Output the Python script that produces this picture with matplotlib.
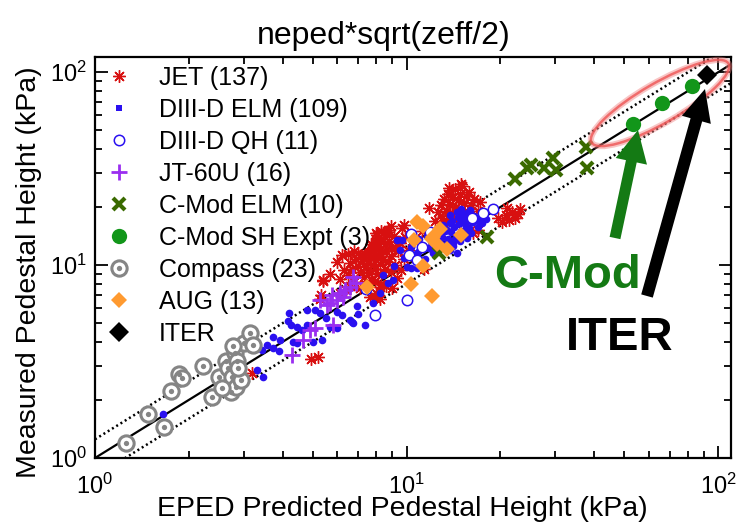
import numpy as np
import matplotlib
matplotlib.use('Agg')
import matplotlib.pyplot as plt
from matplotlib.lines import Line2D
from matplotlib.legend_handler import HandlerTuple
from matplotlib.patches import Ellipse, FancyArrow
import matplotlib.transforms as mtransforms

plt.rcParams['font.family'] = ['Liberation Sans', 'DejaVu Sans']
plt.rcParams['mathtext.fontset'] = 'custom'
plt.rcParams['mathtext.rm'] = 'Liberation Sans'
plt.rcParams['mathtext.it'] = 'Liberation Sans:italic'

# ---------------- data (EPED predicted, measured) in kPa ----------------
jet_x = [6.1, 6.3, 6.5, 6.6, 6.7, 6.8, 6.9, 7.0, 7.0, 7.1, 7.2, 7.3, 7.3, 7.3, 7.4, 7.5, 7.5, 7.5, 7.6, 8.3,
         7.7, 7.7, 7.8, 7.8, 7.9, 7.9, 8.0, 8.0, 8.1, 8.1, 8.2, 8.2, 8.3, 8.3, 8.4, 8.4, 8.5, 8.5, 8.6, 8.7,
         8.7, 8.8, 8.9, 8.9, 9.0, 9.1, 9.2, 9.3, 9.4, 9.5, 9.6, 9.7, 7.1, 8.0, 8.2, 8.6, 7.4, 6.4, 5.4, 5.3,
         6.0, 6.2, 8.0, 8.9, 9.8, 10.1, 7.9, 8.0, 8.3, 9.0, 7.9, 6.6, 9.9, 10.4, 6.8, 8.5, 7.7, 9.3,
         12.9, 13.2, 13.4, 13.6, 13.8, 14.0, 14.1, 14.3, 14.4, 14.6, 14.8, 15.0, 15.1, 15.3, 15.5, 15.7,
         15.9, 16.1, 13.0, 14.2, 12.6, 16.5, 17.2, 17.0, 13.7, 14.9, 12.3, 11.8, 13.5, 16.2,
         19.6, 20.2, 20.8, 21.3, 21.8, 22.3, 22.8, 23.2, 21.0, 16.3, 17.0,
         4.94, 5.2, 3.19, 2.86, 5.4, 5.28, 6.12, 8.05, 8.67, 7.64, 7.9, 8.2, 11.4, 10.6, 9.8, 11.2, 5.7, 6.5]
jet_y = [8.5, 9.4, 8.9, 10.2, 9.6, 8.2, 10.8, 9.9, 11.5, 9.2, 10.5, 11.4, 8.7, 11.0, 9.8, 11.9, 10.3, 11.6, 9.1, 13.2,
         10.9, 8.4, 11.9, 10.0, 9.5, 12.4, 10.6, 11.2, 13.8, 9.0, 10.1, 12.0, 11.4, 8.0, 14.6, 10.8, 12.8, 9.6, 11.8, 10.4,
         15.2, 13.4, 9.2, 11.1, 12.3, 14.1, 10.0, 8.6, 11.9, 13.0, 9.4, 15.5, 7.6, 7.2, 6.7, 7.8, 7.9, 7.4, 8.4, 7.0,
         10.4, 11.3, 14.6, 15.9, 10.7, 12.0, 12.7, 13.1, 15.0, 7.6, 8.3, 7.8, 14.0, 11.2, 11.9, 14.0, 12.9, 12.7,
         20.5, 22.0, 19.1, 23.5, 20.8, 18.4, 22.6, 24.8, 20.0, 21.7, 23.4, 19.4, 25.6, 21.0, 22.8, 18.8,
         24.0, 20.6, 17.6, 17.3, 18.9, 22.1, 21.3, 19.0, 25.0, 26.5, 16.9, 19.8, 17.0, 17.8,
         17.5, 16.8, 18.3, 17.2, 18.9, 17.6, 18.5, 19.5, 19.8, 14.7, 15.3,
         3.26, 3.34, 2.76, 2.72, 8.3, 6.66, 7.15, 14.3, 14.9, 6.8, 6.75, 7.7, 9.6, 13.3, 16.2, 15.0, 9.0, 11.4]

d3elm_x = [1.65, 3.31, 3.46, 3.43, 3.57, 3.73, 3.73, 3.93, 4.20, 4.17, 4.26, 4.45, 4.62, 4.32, 4.45, 4.79, 5.09,
           5.28, 5.01, 5.36, 5.68, 5.98, 6.68, 6.73, 7.36, 6.93, 6.59, 8.41, 9.05, 8.73, 9.32, 9.67, 9.54, 10.3,
           10.5, 10.8, 10.3, 10.8, 11.9, 12.5, 13.5, 13.8, 14.5, 14.1, 13.5, 13.8, 14.9, 15.6, 16.0, 14.5, 15.4,
           16.4, 17.2, 17.6,
           13.0, 13.3, 13.6, 13.9, 14.2, 14.4, 14.7, 14.9, 15.1, 15.3, 15.5, 15.7, 15.9, 16.2, 16.5, 16.8, 14.0,
           14.6, 15.2, 13.1, 12.8, 12.6, 13.4, 14.1, 14.8, 15.6, 16.1, 16.9, 17.5, 18.0, 13.8, 15.0, 16.0, 12.3,
           12.0, 11.6, 11.3, 11.0, 14.3, 15.4,
           5.5, 6.2, 6.0, 7.0, 7.8, 8.2, 9.8, 10.0, 9.1, 11.5, 12.2, 11.8, 4.8, 3.9, 10.9]
d3elm_y = [1.69, 2.86, 2.63, 3.63, 3.85, 3.71, 4.24, 4.09, 5.64, 5.13, 4.89, 4.77, 4.60, 3.99, 3.94, 5.85, 5.85,
           5.64, 3.99, 4.09, 4.77, 5.71, 5.07, 5.0, 4.89, 6.13, 5.19, 8.87, 8.36, 8.08, 13.5, 13.5, 11.96, 12.4,
           11.3, 9.65, 9.65, 11.5, 12.4, 11.96, 12.4, 11.96, 11.5, 13.1, 15.2, 16.5, 17.7, 18.6, 19.3, 18.9, 16.5,
           16.7, 17.7, 18.9,
           14.0, 15.0, 13.6, 14.8, 15.8, 14.2, 16.3, 15.1, 17.0, 14.6, 16.0, 17.5, 15.5, 16.8, 18.0, 17.2, 16.9,
           17.8, 18.4, 16.2, 13.0, 15.5, 12.8, 12.6, 13.3, 13.9, 14.6, 15.8, 16.6, 17.4, 18.1, 19.6, 19.0, 14.4,
           13.4, 14.1, 12.6, 13.6, 13.7, 15.3,
           5.3, 5.5, 4.7, 5.6, 6.4, 7.2, 10.9, 9.8, 9.9, 10.8, 11.5, 12.2, 4.9, 3.6, 11.7]

d3qh_x = [10.3, 11.2, 10.2, 10.8, 7.92, 10.0, 17.6, 19.0, 16.2, 11.9, 7.41]
d3qh_y = [14.5, 12.4, 11.3, 10.6, 5.51, 6.59, 18.6, 19.5, 17.5, 14.8, 7.51]

jt60_x = [4.29, 4.65, 5.09, 5.81, 5.56, 5.76, 6.12, 6.73, 6.59, 6.25, 5.68, 5.28, 5.98, 6.35, 6.88, 4.90]
jt60_y = [3.42, 4.09, 4.72, 4.89, 6.21, 6.99, 7.16, 8.67, 7.69, 6.83, 6.36, 6.59, 6.59, 7.42, 8.07, 4.61]

cmod_elm_x = [12.7, 18.1, 22.3, 24.4, 25.1, 27.6, 29.5, 30.2, 37.7, 37.9]
cmod_elm_y = [11.5, 14.0, 27.9, 31.8, 33.0, 31.8, 35.8, 31.1, 40.9, 31.8]

cmod_sh_x = [53.3, 66.1, 82.5]
cmod_sh_y = [53.8, 69.1, 84.6]

compass_x = [1.26, 1.48, 1.67, 1.75, 1.86, 1.90, 2.22, 2.38, 2.50, 2.63, 2.67, 2.73, 2.75, 2.81, 2.86, 2.84,
             3.01, 3.15, 3.22, 2.77, 2.94, 2.88, 2.56]
compass_y = [1.20, 1.69, 1.45, 2.22, 2.72, 2.60, 3.00, 2.07, 2.63, 3.18, 2.93, 2.20, 2.63, 3.50, 3.18, 2.33,
             3.94, 4.44, 3.85, 3.80, 2.53, 2.93, 2.30]

aug_x = [7.47, 10.8, 11.3, 10.6, 12.1, 12.8, 12.2, 13.5, 11.3, 10.3, 12.1, 15.0, 12.5]
aug_y = [7.69, 16.7, 15.9, 13.5, 13.6, 15.4, 14.0, 12.1, 9.88, 7.97, 6.91, 14.3, 12.8]

iter_x = [92.0]
iter_y = [97.0]

labels = ['JET (137)', 'DIII-D ELM (109)', 'DIII-D QH (11)', 'JT-60U (16)', 'C-Mod ELM (10)',
          'C-Mod SH Expt (3)', 'Compass (23)', 'AUG (13)', 'ITER']
ref_span = [1.0, 130.0]
band_factor = 1.25

# ---------------- colours ----------------
c_jet = '#d81010'
c_d3 = '#2a10f0'
c_jt = '#9a2ef0'
c_cme = '#3a6a00'
c_csh = '#12961a'
c_comp = '#858585'
c_aug = '#ff9a30'
c_green_txt = '#147a14'

fig = plt.figure(figsize=(7.4, 5.22), dpi=100)
ax = fig.add_axes([95/740, (522-458)/522, (731-95)/740, (458-57)/522])
ax.set_xscale('log')
ax.set_yscale('log')

ref = np.array(ref_span)
ax.plot(ref, ref, color='k', lw=1.6, zorder=1.5)
ax.plot(ref, ref*band_factor, color='k', lw=1.8, ls=(0, (0.8, 1.2)), zorder=1.5)
ax.plot(ref, ref/band_factor, color='k', lw=1.8, ls=(0, (0.8, 1.2)), zorder=1.5)

ast = (8, 2, 0)
ax.plot(jet_x, jet_y, ls='none', marker=ast, ms=9, mew=1.0, color=c_jet, zorder=3)
ax.plot(d3elm_x, d3elm_y, ls='none', marker='o', ms=5.5, mew=0, color=c_d3, zorder=3.1)
ax.plot(d3qh_x, d3qh_y, ls='none', marker='o', ms=7.5, mfc='white', mec=c_d3, mew=1.1, zorder=3.2)
ax.plot(jt60_x, jt60_y, ls='none', marker='+', ms=11, mew=2.0, color=c_jt, zorder=3.3)
ax.plot(cmod_elm_x, cmod_elm_y, ls='none', marker='x', ms=8.5, mew=3.0, color=c_cme, zorder=3.4)
ax.plot(cmod_sh_x, cmod_sh_y, ls='none', marker='o', ms=11, mew=0, color=c_csh, zorder=3.5)
ax.plot(compass_x, compass_y, ls='none', marker='o', ms=11, mfc='white', mec=c_comp, mew=2.2, zorder=3.6)
ax.plot(compass_x, compass_y, ls='none', marker='o', ms=3.8, mew=0, color=c_comp, zorder=3.61)
ax.plot(aug_x, aug_y, ls='none', marker='D', ms=8, mew=0, color=c_aug, zorder=3.7)
ax.plot(iter_x, iter_y, ls='none', marker='D', ms=10, mew=0, color='k', zorder=3.8)

ax.set_xlim(1, 110)
ax.set_ylim(1, 120)

for s in ax.spines.values():
    s.set_linewidth(1.6)
ax.tick_params(which='both', direction='in', top=True, right=True, width=1.3, labelsize=17)
ax.tick_params(which='major', length=9)
ax.tick_params(which='minor', length=5)
ax.tick_params(axis='y', pad=6)
ax.tick_params(axis='x', pad=11)

# legend handles
h_jet = Line2D([], [], ls='none', marker=ast, ms=9, mew=1.0, color=c_jet)
h_d3 = Line2D([], [], ls='none', marker='s', ms=5, mew=0, color=c_d3)
h_qh = Line2D([], [], ls='none', marker='o', ms=7.5, mfc='white', mec=c_d3, mew=1.1)
h_jt = Line2D([], [], ls='none', marker='+', ms=11, mew=2.0, color=c_jt)
h_cme = Line2D([], [], ls='none', marker='x', ms=8, mew=3.0, color=c_cme)
h_csh = Line2D([], [], ls='none', marker='o', ms=11, mew=0, color=c_csh)
h_c1 = Line2D([], [], ls='none', marker='o', ms=11, mfc='white', mec=c_comp, mew=2.2)
h_c2 = Line2D([], [], ls='none', marker='o', ms=3.8, mew=0, color=c_comp)
h_aug = Line2D([], [], ls='none', marker='D', ms=8, mew=0, color=c_aug)
h_iter = Line2D([], [], ls='none', marker='D', ms=10, mew=0, color='k')
handles = [h_jet, h_d3, h_qh, h_jt, h_cme, h_csh, (h_c1, h_c2), h_aug, h_iter]
ax.legend(handles, labels, loc='upper left', frameon=False, fontsize=18,
          handlelength=1.2, handletextpad=1.0, labelspacing=0.32,
          borderaxespad=0.05, borderpad=0.3,
          handler_map={tuple: HandlerTuple(ndivide=1)})

# labels
fig.text(384/740, 1-44/522, 'neped*sqrt(zeff/2)', ha='center', va='baseline', fontsize=23)
fig.text(402/740, 1-516/522, 'EPED Predicted Pedestal Height (kPa)', ha='center', va='baseline', fontsize=20.5)
fig.text(29/740, 1-272/522, 'Measured Pedestal Height (kPa)', ha='center', va='center',
         rotation=90, fontsize=20.5)

# annotations (figure pixel coordinates)
idt = mtransforms.IdentityTransform()
ell_glow = Ellipse((660, 419), 158, 40, angle=30, fill=False, ec='#f08080', lw=4.5, alpha=0.45, transform=idt)
ell = Ellipse((660, 419), 158, 40, angle=30, fill=False, ec='#ee5555', lw=1.8, alpha=0.8, transform=idt)
fig.add_artist(ell_glow)
fig.add_artist(ell)
arr_g = FancyArrow(615, 284, 23, 108, width=11, head_width=32, head_length=32,
                   length_includes_head=True, color=c_green_txt, lw=0, transform=idt)
arr_k = FancyArrow(647, 226, 58, 207, width=12, head_width=30, head_length=32,
                   length_includes_head=True, color='k', lw=0, transform=idt)
fig.add_artist(arr_g)
fig.add_artist(arr_k)
fig.text(567/740, 1-288/522, 'C-Mod', ha='center', va='baseline', fontsize=34,
         fontweight='bold', color=c_green_txt)
fig.text(620/740, 1-350/522, 'ITER', ha='center', va='baseline', fontsize=34,
         fontweight='bold', color='k')

fig.savefig('out.png', dpi=100)
